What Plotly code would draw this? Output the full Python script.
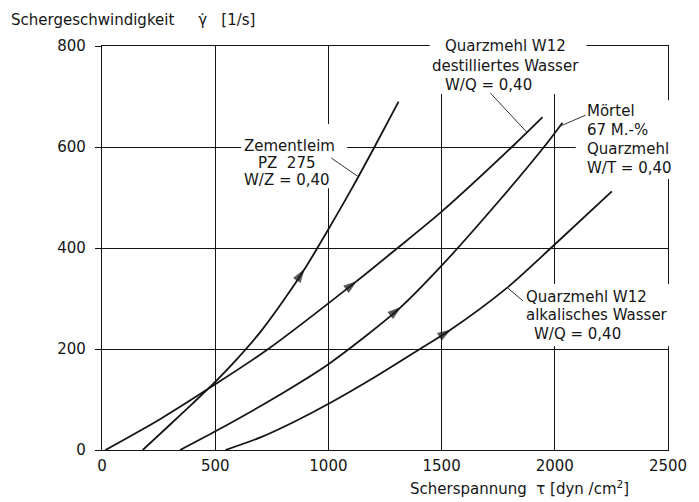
import numpy as np
import plotly.graph_objects as go

# Fließkurven: Schergeschwindigkeit [1/s] über Scherspannung [dyn/cm²]
zl_tau = [180, 300, 400, 500, 600, 700, 800, 900, 1000, 1100, 1200, 1310]
zl_gam = [0, 50, 92, 135, 182, 234, 295, 362, 437, 515, 597, 690]

qd_tau = [15, 260, 500, 728, 1121, 1300, 1500, 1815, 1946]
qd_gam = [0, 62, 130, 198, 333, 398, 472, 602, 659]

mo_tau = [345, 505, 750, 1000, 1315, 1500, 1757, 1961, 2034]
mo_gam = [0, 38, 100, 170, 281, 365, 495, 605, 648]

qa_tau = [545, 700, 845, 1003, 1200, 1415, 1533, 1786, 1983, 2252]
qa_gam = [0, 25, 55, 92, 143, 203, 236, 320, 400, 512]

curves = [
    (zl_tau, zl_gam),
    (qd_tau, qd_gam),
    (mo_tau, mo_gam),
    (qa_tau, qa_gam),
]

# Lage der Richtungspfeile auf den Kurven (Scherspannung)
arrow_tau = [890, 1120, 1315, 1535]

x_ticks = [0, 500, 1000, 1500, 2000, 2500]
y_ticks = [0, 200, 400, 600, 800]

FONT = "DejaVu Sans"
INK = "#151515"
NB = "\u00a0"

fig = go.Figure()
for tau, gam in curves:
    fig.add_trace(go.Scatter(
        x=tau, y=gam, mode="lines",
        line=dict(color=INK, width=1.8, shape="spline", smoothing=0.8),
        hoverinfo="skip", showlegend=False,
    ))

# Richtungspfeile: Pfeilspitze folgt der Kurvenrichtung
for (tau, gam), xa in zip(curves, arrow_tau):
    xs = [xa - 30, xa]
    fig.add_trace(go.Scatter(
        x=xs, y=list(np.interp(xs, tau, gam)), mode="markers",
        marker=dict(symbol="arrow", size=[0, 12], angleref="previous",
                    color=INK, line=dict(width=1.2, color=INK)),
        hoverinfo="skip", showlegend=False,
    ))

annotations = []


def label(lines, x, y, anchor="center", step=18.5, size=15):
    for i, (txt, dx) in enumerate(lines):
        annotations.append(dict(
            x=x, y=y, xref="paper", yref="paper",
            xanchor=anchor, yanchor="middle",
            xshift=dx, yshift=-i * step,
            text=txt, showarrow=False,
            font=dict(family=FONT, size=size, color=INK),
        ))


label([("Zementleim", 0), ("PZ" + NB * 2 + "275", -3), ("W/Z = 0,40", -3)],
      0.332, 0.752, step=17)
label([("Quarzmehl W12", 0), ("destilliertes Wasser", 0), ("W/Q = 0,40", -17)],
      0.713, 1.0, step=19.5)
label([("Mörtel", 0), ("67 M.-%", 0), ("Quarzmehl", 0), ("W/T = 0,40", 0)],
      0.854, 0.839, anchor="left", step=19)
label([("Quarzmehl W12", 0), ("alkalisches Wasser", 0), ("W/Q = 0,40", 8)],
      0.746, 0.379, anchor="left", step=18.5)

# Achsentitel
annotations.append(dict(
    x=-0.165, y=1.064, xref="paper", yref="paper",
    xanchor="left", yanchor="middle", showarrow=False,
    text="Schergeschwindigkeit" + NB * 5 + "\u03b3\u0307" + NB * 3 + "[1/s]",
    font=dict(family=FONT, size=15, color=INK),
))
annotations.append(dict(
    x=0.935, y=-0.094, xref="paper", yref="paper",
    xanchor="right", yanchor="middle", showarrow=False,
    text="Scherspannung" + NB * 2 + "\u03c4" + NB + "[dyn" + NB + "/cm<sup>2</sup>]",
    font=dict(family=FONT, size=15, color=INK),
))

# Freistellflächen hinter den Beschriftungen
boxes = [
    (0.246, 0.648, 0.433, 0.807),
    (0.579, 0.881, 0.856, 1.030),
    (0.837, 0.671, 1.035, 0.866),
    (0.740, 0.257, 1.035, 0.411),
]
shapes = [
    dict(type="rect", xref="paper", yref="paper",
         x0=x0, y0=y0, x1=x1, y1=y1,
         fillcolor="white", line=dict(width=0), layer="above")
    for x0, y0, x1, y1 in boxes
]

# Hinweislinien von den Beschriftungen zu den Kurven
leaders = [
    (0, 1132, 1013, 578),
    (1, 1877, 1715, 707),
    (2, 2022, 2136, 663),
    (3, 1790, 1860, 295),
]
for idx, xt, xl, yl in leaders:
    tau, gam = curves[idx]
    shapes.append(dict(
        type="line", xref="x", yref="y",
        x0=xl, y0=yl, x1=xt, y1=float(np.interp(xt, tau, gam)),
        line=dict(color="#333333", width=1.0), layer="above",
    ))

axis_common = dict(
    showgrid=True, gridcolor=INK, gridwidth=1.3,
    showline=True, linecolor=INK, linewidth=1.3, mirror=True,
    zeroline=False,
    tickfont=dict(family=FONT, size=15, color=INK),
)

fig.update_layout(
    width=699, height=502,
    margin=dict(l=102, r=27, t=46, b=52),
    paper_bgcolor="white", plot_bgcolor="white",
    xaxis=dict(range=[0, 2500], tickvals=x_ticks, ticks="",
               ticklabelstandoff=2, **axis_common),
    yaxis=dict(range=[0, 800], tickvals=y_ticks, ticks="outside",
               ticklen=6, tickcolor=INK, tickwidth=1.2,
               ticklabelstandoff=6, **axis_common),
    annotations=annotations,
    shapes=shapes,
    showlegend=False,
)

fig.write_html("out.html")
